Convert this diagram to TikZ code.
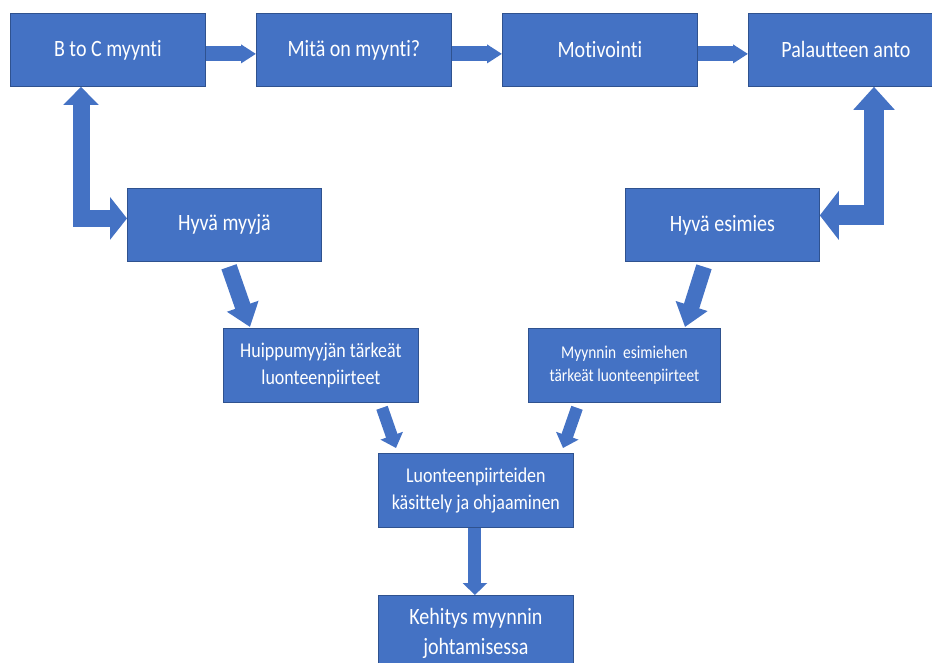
\documentclass[tikz,border=0pt]{standalone}
\usepackage{fontspec}
\setmainfont{Carlito}[FakeStretch=0.855, Ligatures=NoCommon, RawFeature=-liga]
\usetikzlibrary{arrows.meta,calc}
\definecolor{boxblue}{HTML}{4472C4}
\definecolor{edgeblue}{HTML}{2F528F}
\begin{document}
\begin{tikzpicture}[x=1pt,y=-1pt,
  box/.style={draw=edgeblue, line width=0.8pt, fill=boxblue, text=white,
    inner sep=0pt, align=center, anchor=north west,
    minimum width=195pt, minimum height=73pt},
  big/.style={font=\fontsize{23.4}{30}\selectfont},
  mid/.style={font=\fontsize{21}{27}\selectfont},
  small/.style={font=\fontsize{18}{23}\selectfont},
  flow/.style={draw=boxblue, line cap=butt, line join=miter}
]
\useasboundingbox (0,0) rectangle (932,663);
\clip (0,0) rectangle (932,663);

\node[box,big] (b1) at (10,13) {B to C myynti};
\node[box,big] (b2) at (256,13) {Mitä on myynti?};
\node[box,big] (b3) at (502,13) {Motivointi};
\node[box,big] (b4) at (748,13) {Palautteen anto};
\node[box,big,minimum width=194pt] (hm) at (127,188) {Hyvä myyjä};
\node[box,big,minimum width=194pt] (he) at (625,188) {Hyvä esimies};
\node[box,mid,minimum height=74pt] (hh) at (223,328) {Huippumyyjän tärkeät\\luonteenpiirteet};
\node[box,small,minimum width=192pt,minimum height=74pt] (me) at (528,328) {Myynnin\ \ esimiehen\\tärkeät luonteenpiirteet};
\node[box,mid,minimum height=74pt] (lo) at (378,453) {Luonteenpiirteiden\\käsittely ja ohjaaminen};
\node[box,big,minimum height=76pt] (ke) at (378,595) {Kehitys myynnin\\johtamisessa};

% top row arrows
\draw[flow, line width=15pt, -{Triangle[width=18pt,length=15pt]}] ($(b1.east)+(0,4)$) -- ($(b2.west)+(0,4)$);
\draw[flow, line width=15pt, -{Triangle[width=18pt,length=15pt]}] ($(b2.east)+(0,4)$) -- ($(b3.west)+(0,4)$);
\draw[flow, line width=15pt, -{Triangle[width=18pt,length=15pt]}] ($(b3.east)+(0,4)$) -- ($(b4.west)+(0,4)$);

% elbow double arrows
\draw[flow, line width=17pt, {Triangle[width=34pt,length=18pt]}-{Triangle[width=42pt,length=17pt]}]
  ($(b1.south west)+(71,0)$) |- ($(hm.west)+(0,-6.5)$);
\draw[flow, line width=20pt, {Triangle[width=40pt,length=23pt]}-{Triangle[width=48pt,length=19pt]}]
  ($(b4.south west)+(126,0)$) |- ($(he.east)+(0,-9.5)$);

% diagonal arrows
\draw[flow, line width=16pt, -{Triangle[width=32pt,length=22pt]}]
  ($(hm.south west)+(102,5)$) -- ($(hh.north west)+(27,-1)$);
\draw[flow, line width=16pt, -{Triangle[width=32pt,length=22pt]}]
  ($(he.south west)+(79,5)$) -- ($(me.north west)+(157,-1)$);
\draw[flow, line width=12pt, -{Triangle[width=23pt,length=13pt]}]
  ($(hh.south west)+(159,5)$) -- ($(lo.north west)+(18,-5)$);
\draw[flow, line width=12pt, -{Triangle[width=23pt,length=13pt]}]
  ($(me.south west)+(49,5)$) -- ($(lo.north west)+(185,-5)$);

% vertical arrow
\draw[flow, line width=13pt, -{Triangle[width=24pt,length=12pt]}]
  ($(lo.south)+(-1,0)$) -- ($(ke.north)+(-1,0)$);
\end{tikzpicture}
\end{document}
